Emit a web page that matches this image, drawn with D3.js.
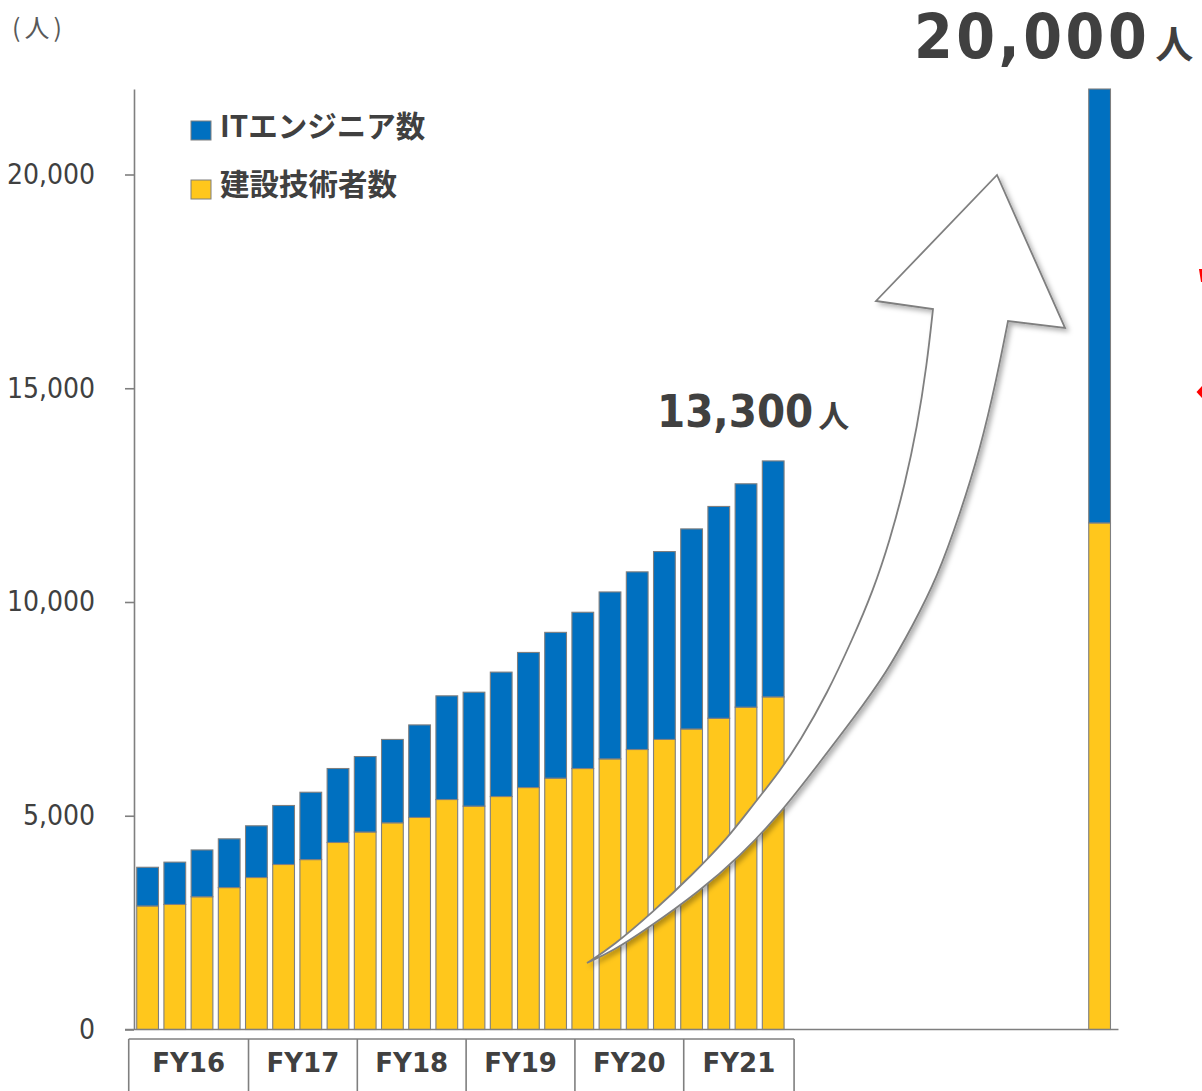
<!DOCTYPE html>
<html>
<head>
<meta charset="utf-8">
<script src="https://cdn.jsdelivr.net/npm/d3@7"></script>
<style>
  html, body { margin: 0; padding: 0; background: #ffffff; }
  svg { display: block; }
</style>
</head>
<body>
<svg id="chart" width="1202" height="1091"></svg>
<script>
// ---- data ----
const quarters = [
  "FY16 1Q","FY16 2Q","FY16 3Q","FY16 4Q",
  "FY17 1Q","FY17 2Q","FY17 3Q","FY17 4Q",
  "FY18 1Q","FY18 2Q","FY18 3Q","FY18 4Q",
  "FY19 1Q","FY19 2Q","FY19 3Q","FY19 4Q",
  "FY20 1Q","FY20 2Q","FY20 3Q","FY20 4Q",
  "FY21 1Q","FY21 2Q","FY21 3Q","FY21 4Q"
];
const fiscalYears = ["FY16","FY17","FY18","FY19","FY20","FY21"];
const constructionEngineers = [2890, 2925, 3105, 3320, 3555, 3860, 3975, 4375, 4620, 4835, 4960, 5380,
                               5225, 5450, 5660, 5880, 6105, 6330, 6550, 6785, 7030, 7280, 7540, 7780];
const itEngineers = [905, 990, 1095, 1140, 1210, 1380, 1575, 1730, 1765, 1950, 2165, 2425,
                     2665, 2910, 3160, 3410, 3655, 3905, 4155, 4395, 4680, 4955, 5225, 5520];
const targetCategory = "目標";
const targetConstruction = 11850;
const targetIT = 10150;
const gapSlots = 11;
const yTicks = [0, 5000, 10000, 15000, 20000];
const seriesNames = ["ITエンジニア数", "建設技術者数"];
const unitLabel = "(人)";
const currentLabel = "13,300";
const targetLabel = "20,000";
const personChar = "人";

// ---- setup ----
const svg = d3.select("#chart");
const W = 1202, H = 1091;
const colors = { it: "#0070C0", construction: "#FFC71C" };
const gray = "#7f7f7f";
const textColor = "#404040";

const rows = quarters.map((q, i) => ({ key: q, construction: constructionEngineers[i], it: itEngineers[i] }));
rows.push({ key: targetCategory, construction: targetConstruction, it: targetIT });

const gapKeys = d3.range(gapSlots).map(i => "_gap" + i);
const xDomain = quarters.concat(gapKeys, [targetCategory]);

const x = d3.scaleBand().domain(xDomain).range([134, 134 + xDomain.length * 27.2])
  .paddingInner(0.2).paddingOuter(0.1);
const y = d3.scaleLinear().domain([0, 22000]).range([1029.5, 89]);

const defs = svg.append("defs");
const f = defs.append("filter").attr("id", "shadow").attr("x", "-20%").attr("y", "-20%")
  .attr("width", "140%").attr("height", "140%");
f.append("feDropShadow").attr("dx", 3).attr("dy", 3).attr("stdDeviation", 2.5)
  .attr("flood-color", "#000").attr("flood-opacity", 0.3);

// ---- bars ----
const stack = d3.stack().keys(["construction", "it"]);
const series = stack(rows);
const gBars = svg.append("g");
series.forEach(s => {
  gBars.selectAll(null).data(s).enter().append("rect")
    .attr("x", d => x(d.data.key))
    .attr("width", x.bandwidth())
    .attr("y", d => y(d[1]))
    .attr("height", d => y(d[0]) - y(d[1]))
    .attr("fill", colors[s.key])
    .attr("stroke", gray)
    .attr("stroke-width", 1.1);
});

// ---- axes ----
const yAxis = d3.axisLeft(y).tickValues(yTicks).tickSize(9).tickSizeOuter(0)
  .tickPadding(30).tickFormat(d3.format(","));
const gy = svg.append("g").attr("transform", "translate(134,0)").call(yAxis);
gy.select(".domain").attr("stroke", gray).attr("stroke-width", 1.6);
gy.selectAll(".tick line").attr("stroke", gray).attr("stroke-width", 1.6);
gy.selectAll(".tick text").attr("fill", textColor)
  .style("font-family", "'DejaVu Sans Condensed', 'DejaVu Sans', sans-serif")
  .style("font-size", "28px");

// baseline
const xEnd = x(targetCategory) + x.bandwidth() + 8;
svg.append("line").attr("x1", 125).attr("x2", xEnd).attr("y1", y(0)).attr("y2", y(0))
  .attr("stroke", gray).attr("stroke-width", 1.6);

// fiscal year table
const tableTop = 1039;
const bounds = [x(quarters[0]) - 8];
for (let k = 1; k < fiscalYears.length; k++) bounds.push(x(quarters[4 * k]) + 3);
bounds.push(x(quarters[quarters.length - 1]) + x.bandwidth() + 10);
svg.append("line").attr("x1", bounds[0]).attr("x2", bounds[bounds.length - 1])
  .attr("y1", tableTop).attr("y2", tableTop).attr("stroke", gray).attr("stroke-width", 1.6);
bounds.forEach(b => {
  svg.append("line").attr("x1", b).attr("x2", b).attr("y1", tableTop).attr("y2", H)
    .attr("stroke", gray).attr("stroke-width", 1.6);
});
fiscalYears.forEach((fy, i) => {
  svg.append("text").attr("x", (bounds[i] + bounds[i + 1]) / 2).attr("y", 1072)
    .attr("text-anchor", "middle").attr("fill", textColor)
    .style("font-family", "'DejaVu Sans', sans-serif").style("font-weight", "bold")
    .style("font-size", "26px").text(fy);
});

// unit label
svg.append("text").attr("x", 12).attr("y", 37).attr("fill", "#595959")
  .style("font-family", "'Noto Sans CJK JP', sans-serif").style("font-size", "25px")
  .attr("letter-spacing", 4).text(unitLabel);

// legend
const legend = [
  { name: seriesNames[0], color: colors.it, y: 121, base: 137 },
  { name: seriesNames[1], color: colors.construction, y: 180, base: 195 }
];
legend.forEach(l => {
  svg.append("rect").attr("x", 191).attr("y", l.y).attr("width", 20).attr("height", 19)
    .attr("fill", l.color).attr("stroke", gray).attr("stroke-width", 1);
  svg.append("text").attr("x", 220).attr("y", l.base).attr("fill", textColor)
    .style("font-family", "'Noto Sans CJK JP', sans-serif").style("font-weight", "bold")
    .style("font-size", "29.5px").text(l.name);
});

// curved arrow (annotation shape)
const upperPts = [[587,963],[613,946],[653,912],[693,874],[727,839],[753,805],[780,771],[800,741],
                  [827,694],[853,638],[873,591],[890,540],[905,484],[917,428],[927,364],[933,309]];
const lowerPts = [[1008,321],[997,377],[980,450],[960,514],[937,578],[913,625],[887,672],[853,719],
                  [820,762],[780,814],[740,856],[700,891],[647,929],[613,951],[587,963]];
const lineGen = d3.line().curve(d3.curveBasis);
const upperPath = lineGen(upperPts);
const lowerPath = lineGen(lowerPts).replace(/^M/, "L");
const arrowD = upperPath + "L876,301L997,175L1065,328L1008,321" + lowerPath + "Z";
svg.append("path").attr("d", arrowD).attr("fill", "#ffffff").attr("stroke", gray)
  .attr("stroke-width", 1.8).attr("stroke-linejoin", "miter").attr("filter", "url(#shadow)");

// value labels
function bigLabel(xp, yp, num, numSize, unitSize, gap, spacing) {
  const t = svg.append("text").attr("x", xp).attr("y", yp).attr("fill", textColor);
  t.append("tspan").style("font-family", "'DejaVu Sans Condensed', 'DejaVu Sans', sans-serif")
    .style("font-weight", "bold").style("font-size", numSize + "px")
    .attr("letter-spacing", spacing).text(num);
  t.append("tspan").style("font-family", "'Noto Sans CJK JP', sans-serif")
    .style("font-weight", "bold").style("font-size", unitSize + "px").attr("dx", gap).text(personChar);
}
bigLabel(657, 427, currentLabel, 45, 31, 5, 0);
bigLabel(914, 57.5, targetLabel, 62, 38, 5, 3.5);

// red marks at right edge
svg.append("path").attr("d", "M1199,269L1202,269L1202,282L1201,282Z").attr("fill", "#ff0000");
svg.append("path").attr("d", "M1196.5,392L1202,386L1202,398Z").attr("fill", "#ff0000");
</script>
</body>
</html>
